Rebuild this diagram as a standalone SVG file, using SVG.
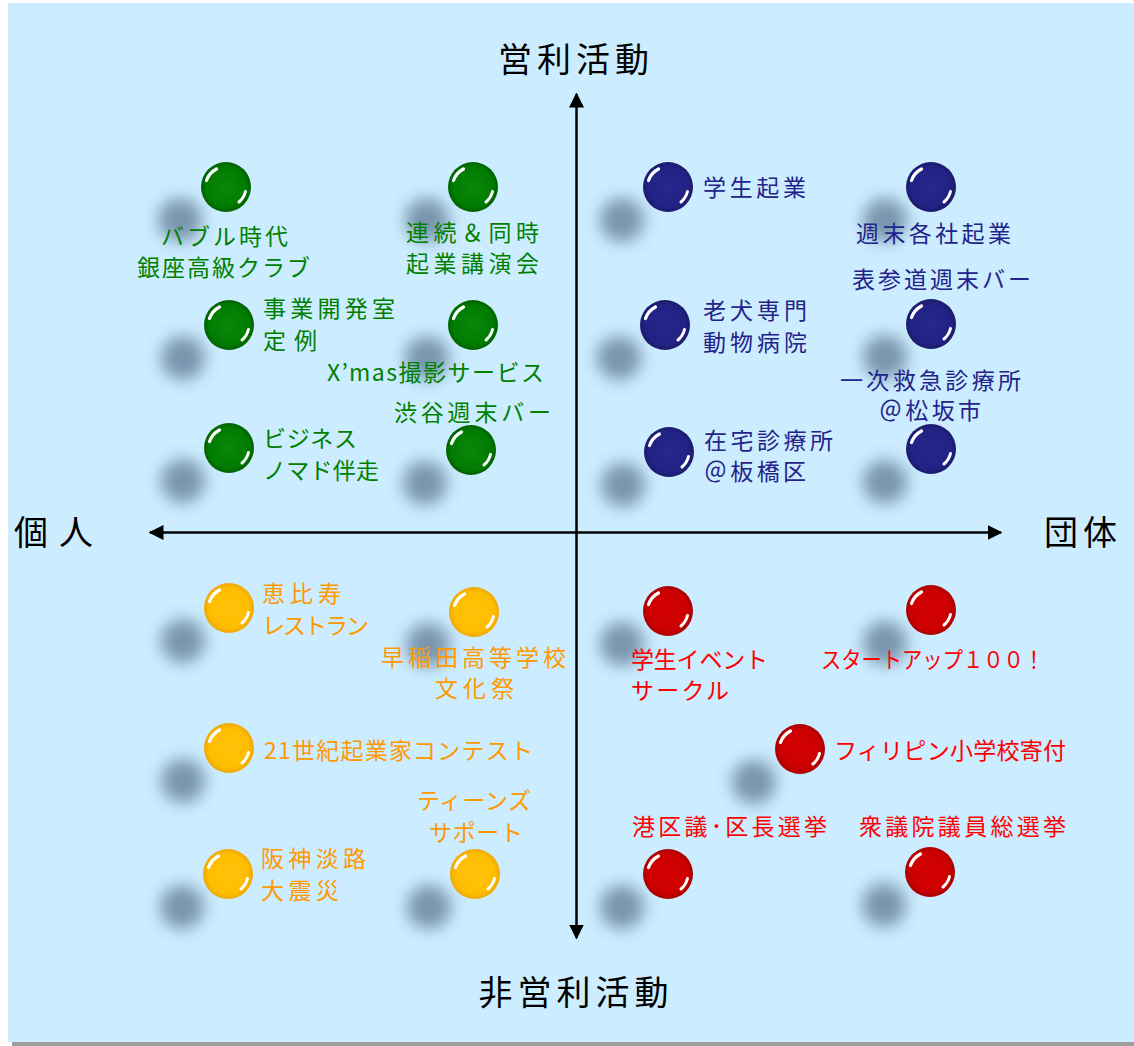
<svg xmlns="http://www.w3.org/2000/svg" width="1134" height="1046" viewBox="0 0 1134 1046">
<style>
text{font-family:"Noto Sans CJK JP","Noto Sans",sans-serif;}
.lb{font-size:23px;}
.ax{font-size:34px;letter-spacing:5px;fill:#000;}
.g{fill:#008000;}
.b{fill:#23238a;}
.o{fill:#ff9900;}
.r{fill:#ff0000;}
.mid{text-anchor:middle;}
.axis{stroke:#000;stroke-width:2.5;fill:none;}
</style>
<defs>
<filter id="blur" x="-100%" y="-100%" width="300%" height="300%"><feGaussianBlur stdDeviation="8"/></filter>
<filter id="hb" x="-50%" y="-50%" width="200%" height="200%"><feGaussianBlur stdDeviation="0.5"/></filter>
<radialGradient id="gG" cx="50%" cy="50%" r="50%"><stop offset="0" stop-color="#0a870a"/><stop offset="0.8" stop-color="#007c00"/><stop offset="1" stop-color="#006000"/></radialGradient>
<radialGradient id="gB" cx="50%" cy="50%" r="50%"><stop offset="0" stop-color="#26268c"/><stop offset="0.8" stop-color="#222285"/><stop offset="1" stop-color="#1a1a6a"/></radialGradient>
<radialGradient id="gO" cx="50%" cy="50%" r="50%"><stop offset="0" stop-color="#ffc20a"/><stop offset="0.8" stop-color="#ffbd00"/><stop offset="1" stop-color="#f0a800"/></radialGradient>
<radialGradient id="gR" cx="50%" cy="50%" r="50%"><stop offset="0" stop-color="#d40000"/><stop offset="0.8" stop-color="#cc0000"/><stop offset="1" stop-color="#a80000"/></radialGradient>
<g id="hl" filter="url(#hb)" stroke="#fff" stroke-linecap="round" fill="none">
<path d="M -19.5,-6.5 A 20.5 20.5 0 0 1 -9.5,-18" stroke-width="3.2"/>
<path d="M 19.5,4.5 A 20 20 0 0 1 13,15" stroke-width="3"/>
</g>
<circle id="sh" r="22" fill="#64809a" opacity="0.8" filter="url(#blur)"/>
<g id="ballG"><circle r="25" fill="url(#gG)"/><use href="#hl"/></g>
<g id="ballB"><circle r="25" fill="url(#gB)"/><use href="#hl"/></g>
<g id="ballO"><circle r="25" fill="url(#gO)"/><use href="#hl"/></g>
<g id="ballR"><circle r="25" fill="url(#gR)"/><use href="#hl"/></g>
<marker id="ah" viewBox="0 0 10 10" refX="9" refY="5" markerWidth="6" markerHeight="6" orient="auto-start-reverse" markerUnits="strokeWidth"><path d="M0,0 L10,5 L0,10 Z" fill="#000"/></marker>
</defs>

<rect x="0" y="0" width="1134" height="1046" fill="#fff"/>
<rect x="12" y="1040" width="1122" height="6" fill="#9e9e9e"/>
<rect x="8" y="3" width="1126" height="1039" fill="#ccecff"/>

<g id="connectors">
<line class="axis" x1="576.5" y1="938" x2="576.5" y2="94" marker-end="url(#ah)" marker-start="url(#ah)"/>
<line class="axis" x1="150" y1="532.5" x2="1001" y2="532.5" marker-end="url(#ah)" marker-start="url(#ah)"/>
</g>

<g id="axis-labels">
<text class="ax mid" x="576" y="72">営利活動</text>
<text class="ax mid" x="576" y="1005">非営利活動</text>
<text class="ax" x="14" y="545" textLength="84" lengthAdjust="spacing">個人</text>
<text class="ax" x="1044" y="545">団体</text>
</g>

<g id="n-bubble"><use href="#sh" x="180" y="220"/><use href="#ballG" x="226" y="187"/>
<text class="lb g mid" x="224.5" y="245" textLength="127" lengthAdjust="spacing">バブル時代</text><text class="lb g mid" x="223.5" y="276" textLength="173" lengthAdjust="spacing">銀座高級クラブ</text></g>
<g id="n-renzoku"><use href="#sh" x="427" y="220"/><use href="#ballG" x="473" y="187"/>
<text class="lb g mid" x="472.5" y="241" textLength="133" lengthAdjust="spacing">連続＆同時</text><text class="lb g mid" x="472.5" y="272" textLength="133" lengthAdjust="spacing">起業講演会</text></g>
<g id="n-jigyo"><use href="#sh" x="183" y="358"/><use href="#ballG" x="229" y="325"/>
<text class="lb g" x="263" y="317" textLength="132" lengthAdjust="spacing">事業開発室</text><text class="lb g" x="263" y="349" textLength="54" lengthAdjust="spacing">定例</text></g>
<g id="n-xmas"><use href="#sh" x="427" y="358"/><use href="#ballG" x="473" y="325"/>
<text class="lb g mid" x="435.5" y="381" textLength="217" lengthAdjust="spacing">X’mas撮影サービス</text></g>
<g id="n-shibuya"><use href="#sh" x="425" y="483"/><use href="#ballG" x="471" y="450"/>
<text class="lb g mid" x="472.5" y="421" textLength="157" lengthAdjust="spacing">渋谷週末バー</text></g>
<g id="n-nomad"><use href="#sh" x="183" y="481"/><use href="#ballG" x="229" y="448"/>
<text class="lb g" x="263" y="447" textLength="94" lengthAdjust="spacing">ビジネス</text><text class="lb g" x="263" y="479" textLength="116" lengthAdjust="spacing">ノマド伴走</text></g>

<g id="n-gakusei"><use href="#sh" x="622" y="220"/><use href="#ballB" x="668" y="187"/>
<text class="lb b" x="703" y="196" textLength="103" lengthAdjust="spacing">学生起業</text></g>
<g id="n-shumatsu"><use href="#sh" x="885" y="220"/><use href="#ballB" x="931" y="187"/>
<text class="lb b mid" x="933.5" y="242" textLength="155" lengthAdjust="spacing">週末各社起業</text></g>
<g id="n-omotesando"><use href="#sh" x="885" y="357"/><use href="#ballB" x="931" y="324"/>
<text class="lb b mid" x="941.5" y="288" textLength="179" lengthAdjust="spacing">表参道週末バー</text></g>
<g id="n-roken"><use href="#sh" x="619" y="358"/><use href="#ballB" x="665" y="325"/>
<text class="lb b" x="703" y="319" textLength="104" lengthAdjust="spacing">老犬専門</text><text class="lb b" x="703" y="351" textLength="104" lengthAdjust="spacing">動物病院</text></g>
<g id="n-matsusaka"><use href="#sh" x="885" y="482"/><use href="#ballB" x="931" y="449"/>
<text class="lb b mid" x="930.5" y="389" textLength="181" lengthAdjust="spacing">一次救急診療所</text><text class="lb b mid" x="930" y="419" textLength="102" lengthAdjust="spacing">＠松坂市</text></g>
<g id="n-itabashi"><use href="#sh" x="623" y="485"/><use href="#ballB" x="669" y="452"/>
<text class="lb b" x="704" y="449" textLength="129" lengthAdjust="spacing">在宅診療所</text><text class="lb b" x="704" y="480" textLength="102" lengthAdjust="spacing">＠板橋区</text></g>

<g id="n-ebisu"><use href="#sh" x="183" y="641"/><use href="#ballO" x="229" y="608"/>
<text class="lb o" x="262" y="602" textLength="79" lengthAdjust="spacing">恵比寿</text><text class="lb o" x="262" y="634" textLength="107" lengthAdjust="spacing">レストラン</text></g>
<g id="n-waseda"><use href="#sh" x="428" y="645"/><use href="#ballO" x="474" y="612"/>
<text class="lb o mid" x="473.5" y="666" textLength="185" lengthAdjust="spacing">早稲田高等学校</text><text class="lb o mid" x="474.5" y="697" textLength="79" lengthAdjust="spacing">文化祭</text></g>
<g id="n-contest"><use href="#sh" x="183" y="781"/><use href="#ballO" x="229" y="748"/>
<text class="lb o" x="264" y="759" textLength="269" lengthAdjust="spacing">21世紀起業家コンテスト</text></g>
<g id="n-teens"><use href="#sh" x="429" y="907"/><use href="#ballO" x="475" y="874"/>
<text class="lb o mid" x="474" y="809" textLength="114" lengthAdjust="spacing">ティーンズ</text><text class="lb o mid" x="476" y="841" textLength="94" lengthAdjust="spacing">サポート</text></g>
<g id="n-hanshin"><use href="#sh" x="182" y="907"/><use href="#ballO" x="228" y="874"/>
<text class="lb o" x="261" y="867" textLength="105" lengthAdjust="spacing">阪神淡路</text><text class="lb o" x="261" y="899" textLength="78" lengthAdjust="spacing">大震災</text></g>

<g id="n-event"><use href="#sh" x="622" y="644"/><use href="#ballR" x="668" y="611"/>
<text class="lb r" x="631" y="668" textLength="137" lengthAdjust="spacing">学生イベント</text><text class="lb r" x="631" y="699" textLength="98" lengthAdjust="spacing">サークル</text></g>
<g id="n-startup"><use href="#sh" x="885" y="643"/><use href="#ballR" x="931" y="610"/>
<text class="lb r mid" x="932.5" y="668" textLength="223" lengthAdjust="spacingAndGlyphs">スタートアップ１００！</text></g>
<g id="n-philippines"><use href="#sh" x="754" y="782"/><use href="#ballR" x="800" y="749"/>
<text class="lb r" x="834" y="759" textLength="232" lengthAdjust="spacing">フィリピン小学校寄付</text></g>
<g id="n-minato"><use href="#sh" x="622" y="907"/><use href="#ballR" x="668" y="874"/>
<text class="lb r" x="632" y="835" textLength="195" lengthAdjust="spacing">港区議･区長選挙</text></g>
<g id="n-shugiin"><use href="#sh" x="884" y="905"/><use href="#ballR" x="930" y="872"/>
<text class="lb r mid" x="962.5" y="835" textLength="207" lengthAdjust="spacing">衆議院議員総選挙</text></g>
</svg>
